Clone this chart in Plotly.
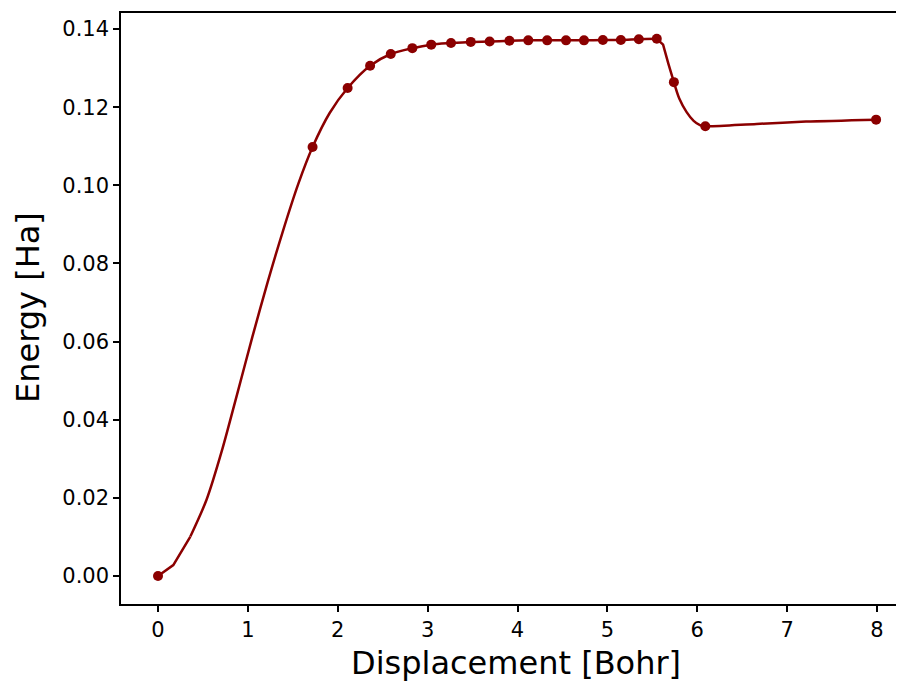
import plotly.graph_objects as go

# Sampled points (markers)
marker_x = [0.0, 1.72, 2.11, 2.36, 2.59, 2.83, 3.04, 3.26, 3.48, 3.69, 3.91, 4.12,
            4.33, 4.54, 4.74, 4.95, 5.15, 5.35, 5.55, 5.74, 6.09, 7.99]
marker_y = [0.0, 0.1098, 0.1249, 0.1306, 0.1336, 0.1351, 0.1360, 0.1364, 0.1367, 0.1368,
            0.1370, 0.1371, 0.1371, 0.1371, 0.1371, 0.1372, 0.1372, 0.1374, 0.1375,
            0.1264, 0.1151, 0.1168]

# Continuous curve, in pieces
curve1_x = [0.0, 0.17, 0.36]
curve1_y = [0.0, 0.0028, 0.0101]
curve2_x = [0.36, 0.54, 0.71, 0.88, 1.05, 1.22, 1.39, 1.56, 1.72, 1.91,
            2.11, 2.36, 2.59, 2.83, 3.04, 3.26, 3.48, 3.69, 3.91, 4.12, 4.33, 4.54,
            4.74, 4.95, 5.15, 5.35, 5.55]
curve2_y = [0.0101, 0.0195, 0.0320, 0.0465, 0.0612, 0.0752, 0.0883, 0.1003, 0.1098,
            0.1185, 0.1249, 0.1306, 0.1336, 0.1351, 0.1360, 0.1364, 0.1367, 0.1368,
            0.1370, 0.1371, 0.1371, 0.1371, 0.1371, 0.1372, 0.1372, 0.1374, 0.1375]
curve3_x = [5.55, 5.62, 5.68, 5.74]
curve3_y = [0.1375, 0.1360, 0.1310, 0.1264]
curve4_x = [5.74, 5.80, 5.88, 5.96, 6.03, 6.09, 6.66, 7.21, 7.99]
curve4_y = [0.1264, 0.1222, 0.1188, 0.1165, 0.1154, 0.1151, 0.1157, 0.1163, 0.1168]

x_ticks = [0, 1, 2, 3, 4, 5, 6, 7, 8]
y_ticks = [0.00, 0.02, 0.04, 0.06, 0.08, 0.10, 0.12, 0.14]

color = "#8b0000"
font = "DejaVu Sans"

fig = go.Figure()
for cx, cy, shape in [(curve1_x, curve1_y, "linear"),
                      (curve2_x, curve2_y, "spline"),
                      (curve3_x, curve3_y, "linear"),
                      (curve4_x, curve4_y, "spline")]:
    fig.add_trace(go.Scatter(x=cx, y=cy, mode="lines",
                             line=dict(color=color, width=2.5, shape=shape,
                                       smoothing=0.8),
                             showlegend=False, hoverinfo="skip"))
fig.add_trace(go.Scatter(x=marker_x, y=marker_y, mode="markers",
                         marker=dict(color=color, size=10, line=dict(width=0)),
                         showlegend=False))

fig.update_layout(
    width=896, height=674,
    margin=dict(l=113, r=0, t=5, b=78),
    paper_bgcolor="white", plot_bgcolor="white",
    font=dict(family=font, color="black", size=21),
    xaxis=dict(range=[-0.4117, 8.3005], tickvals=x_ticks,
               ticktext=[str(v) for v in x_ticks],
               showline=True, linecolor="black", linewidth=1.5, mirror=True,
               ticks="outside", ticklen=6, tickwidth=1.5, tickcolor="black",
               showgrid=False, zeroline=False, tickfont=dict(size=21)),
    yaxis=dict(range=[-0.00717, 0.1441], tickvals=y_ticks,
               ticktext=[f"{v:.2f}" for v in y_ticks],
               showline=True, linecolor="black", linewidth=1.5,
               ticks="outside", ticklen=6, tickwidth=1.5, tickcolor="black",
               showgrid=False, zeroline=False, tickfont=dict(size=21)),
    annotations=[
        dict(text="Displacement [Bohr]", xref="paper", yref="paper",
             x=0.505, y=-0.0998, xanchor="center", yanchor="middle",
             showarrow=False, font=dict(size=32, family=font, color="black")),
        dict(text="Energy [Ha]", xref="paper", yref="paper",
             x=-0.1188, y=0.5025, xanchor="center", yanchor="middle",
             textangle=-90, showarrow=False,
             font=dict(size=32, family=font, color="black")),
    ],
)

fig.write_html("out.html")
